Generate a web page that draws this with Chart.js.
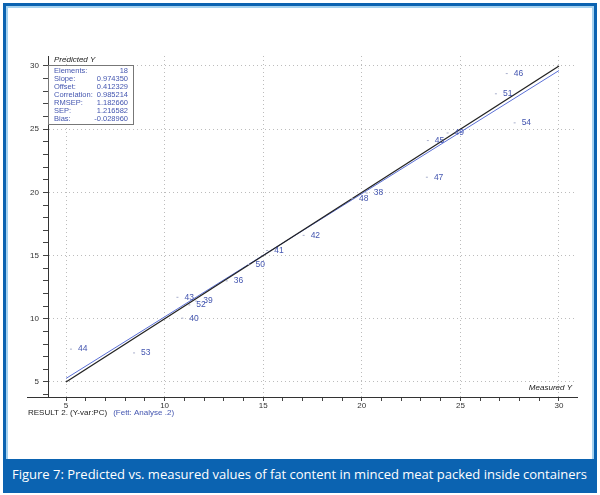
<!DOCTYPE html>
<html>
<head>
<meta charset="utf-8">
<script src="https://cdn.jsdelivr.net/npm/chart.js@4.4.0/dist/chart.umd.min.js"></script>
<style>
  html, body { margin: 0; padding: 0; background: #fff; }
  #frame { position: absolute; left: 3px; top: 3px; width: 588px; height: 484px; border: 3px solid #0b63b1; }
  #inner { position: absolute; left: 0; top: 0; right: 0; bottom: 0; border: 2px solid #a6d2ef; }
  #wrap { position: absolute; left: 0; top: 0; width: 600px; height: 455px; }
  #caption { position: absolute; left: 6px; top: 459px; width: 588px; height: 31px; background: #0b63b1;
    color: #fff; font: 13px "Open Sans", sans-serif; line-height: 31px; white-space: nowrap; overflow: hidden; }
  #caption span { display: inline-block; transform-origin: 0 50%; margin-left: 6px; }
</style>
</head>
<body>
<div id="frame"><div id="inner"></div></div>
<div id="wrap"><canvas id="chart" width="600" height="455"></canvas></div>
<div id="caption"><span id="capText">Figure 7: Predicted vs. measured values of fat content in minced meat packed inside containers</span></div>
<script>
// sample ids and values
const pointIds = ['46', '51', '54', '45', '49', '47', '38', '48', '42', '41', '50', '36', '43', '52', '39', '40', '44', '53'];
const measured = [27.3, 26.75, 27.7, 23.3, 24.3, 23.25, 20.2, 19.45, 17.0, 15.15, 14.2, 13.1, 10.6, 11.2, 11.55, 10.85, 5.2, 8.4];
const predicted = [29.4, 27.8, 25.5, 24.1, 24.7, 21.2, 19.95, 19.5, 16.6, 15.4, 14.3, 13.0, 11.7, 11.1, 11.4, 10.05, 7.6, 7.3];

// target line (y = x) and regression line end points
const lineX = [5, 30];
const targetY = [5, 30];
const fitY = [5.28, 29.64];

const statNames = ['Elements:', 'Slope:', 'Offset:', 'Correlation:', 'RMSEP:', 'SEP:', 'Bias:'];
const statValues = ['18', '0.974350', '0.412329', '0.985214', '1.182660', '1.216582', '-0.028960'];

const majorStep = 5;

const BLUE = '#4456b0';
const FONT = '"Liberation Sans", Arial, sans-serif';

const scatterData = measured.map((m, i) => ({ x: m, y: predicted[i] }));
const targetData = lineX.map((x, i) => ({ x: x, y: targetY[i] }));
const fitData = lineX.map((x, i) => ({ x: x, y: fitY[i] }));

const extras = {
  id: 'extras',
  afterDatasetsDraw(chart) {
    const ctx = chart.ctx;
    const area = chart.chartArea;
    ctx.save();

    // point labels
    const meta = chart.getDatasetMeta(0);
    ctx.font = '8.5px ' + FONT;
    ctx.fillStyle = BLUE;
    ctx.textAlign = 'left';
    ctx.textBaseline = 'middle';
    meta.data.forEach((pt, i) => {
      ctx.fillText(pointIds[i], pt.x + 8, pt.y);
    });

    // stats box
    const bx = area.left, by = 65, bw = 85, bh = 59;
    ctx.fillStyle = '#fff';
    ctx.fillRect(bx, by, bw, bh);
    ctx.strokeStyle = '#777';
    ctx.lineWidth = 1;
    ctx.strokeRect(bx + 0.5, by + 0.5, bw, bh);
    ctx.font = '7.5px ' + FONT;
    ctx.fillStyle = BLUE;
    statNames.forEach((name, i) => {
      const ty = by + 6 + i * 8;
      ctx.textAlign = 'left';
      ctx.fillText(name, bx + 6, ty);
      ctx.textAlign = 'right';
      ctx.fillText(statValues[i], bx + bw - 5, ty);
    });

    // x axis extends left past the y axis
    ctx.strokeStyle = '#333';
    ctx.beginPath();
    ctx.moveTo(27, area.bottom + 0.5);
    ctx.lineTo(area.left, area.bottom + 0.5);
    ctx.stroke();

    // axis titles
    ctx.font = 'italic 8px ' + FONT;
    ctx.fillStyle = '#222';
    ctx.textAlign = 'left';
    ctx.fillText('Predicted Y', area.left + 6, 60);
    ctx.textAlign = 'right';
    ctx.fillText('Measured Y', area.right - 5, area.bottom - 9);

    // footer text
    ctx.font = '8px ' + FONT;
    ctx.textAlign = 'left';
    ctx.fillStyle = '#222';
    const t1 = 'RESULT 2. (Y-var:PC)';
    ctx.fillText(t1, 28, 413);
    ctx.fillStyle = BLUE;
    ctx.fillText('(Fett: Analyse .2)', 28 + ctx.measureText(t1).width + 6, 413);
    ctx.restore();
  }
};

const gridColor = (c) => (c.tick && c.tick.value % majorStep === 0) ? '#bcbcbc' : 'rgba(0,0,0,0)';

new Chart(document.getElementById('chart'), {
  data: {
    datasets: [
      {
        type: 'scatter',
        data: scatterData,
        pointStyle: 'dash',
        radius: 2,
        borderColor: '#aab0cc',
        borderWidth: 1
      },
      {
        type: 'line',
        data: targetData,
        borderColor: '#222',
        borderWidth: 1.3,
        pointRadius: 0,
        fill: false
      },
      {
        type: 'line',
        data: fitData,
        borderColor: '#5a6fd6',
        borderWidth: 1,
        pointRadius: 0,
        fill: false
      }
    ]
  },
  options: {
    responsive: false,
    animation: false,
    layout: { padding: { left: 28, right: 23, top: 56, bottom: 38 } },
    plugins: { legend: { display: false }, tooltip: { enabled: false } },
    scales: {
      x: {
        type: 'linear',
        min: 4.087,
        max: 30.913,
        afterFit(scale) { scale.height = 20; },
        border: { color: '#333', width: 1, dash: [1, 3] },
        grid: { color: gridColor, tickColor: '#444', tickBorderDash: [], tickLength: 4 },
        ticks: {
          stepSize: 1,
          includeBounds: false,
          autoSkip: false,
          maxRotation: 0,
          padding: 0,
          color: '#333',
          font: { family: FONT, size: 8 },
          callback: (v) => v % majorStep === 0 ? String(v) : ''
        }
      },
      y: {
        type: 'linear',
        min: 3.813,
        max: 30.79,
        afterFit(scale) { scale.width = 20; },
        border: { color: '#333', width: 1, dash: [1, 3] },
        grid: { color: gridColor, tickColor: '#444', tickBorderDash: [], tickLength: 5 },
        ticks: {
          stepSize: 1,
          includeBounds: false,
          autoSkip: false,
          padding: 4,
          color: '#333',
          font: { family: FONT, size: 8 },
          callback: (v) => v % majorStep === 0 ? String(v) : ''
        }
      }
    }
  },
  plugins: [extras]
});

// stretch caption to the bar width
const cap = document.getElementById('capText');
const w = cap.getBoundingClientRect().width;
cap.style.transform = 'scaleX(' + (575 / w) + ')';
</script>
</body>
</html>
